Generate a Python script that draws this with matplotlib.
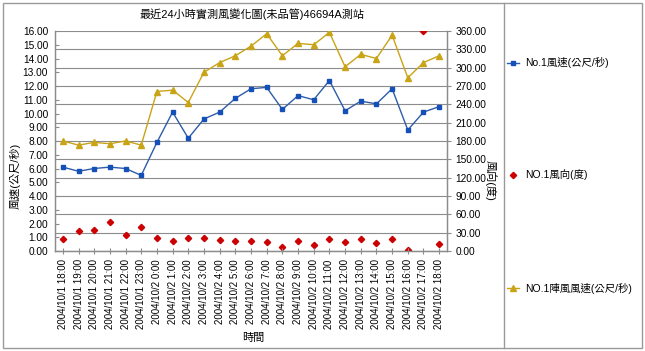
import matplotlib
matplotlib.use("Agg")
import matplotlib.pyplot as plt
from matplotlib.lines import Line2D
from matplotlib.patches import Rectangle

plt.rcParams['font.family'] = ['Liberation Sans', 'Noto Sans CJK TC', 'DejaVu Sans']

times = ["2004/10/1 18:00", "2004/10/1 19:00", "2004/10/1 20:00", "2004/10/1 21:00",
         "2004/10/1 22:00", "2004/10/1 23:00", "2004/10/2 0:00", "2004/10/2 1:00",
         "2004/10/2 2:00", "2004/10/2 3:00", "2004/10/2 4:00", "2004/10/2 5:00",
         "2004/10/2 6:00", "2004/10/2 7:00", "2004/10/2 8:00", "2004/10/2 9:00",
         "2004/10/2 10:00", "2004/10/2 11:00", "2004/10/2 12:00", "2004/10/2 13:00",
         "2004/10/2 14:00", "2004/10/2 15:00", "2004/10/2 16:00", "2004/10/2 17:00",
         "2004/10/2 18:00"]
wind_speed = [6.1, 5.8, 6.0, 6.1, 6.0, 5.5, 7.9, 10.1, 8.2, 9.6, 10.1, 11.1, 11.8,
              11.9, 10.3, 11.3, 11.0, 12.4, 10.2, 10.9, 10.7, 11.8, 8.8, 10.1, 10.5]
wind_dir = [20, 32, 35, 47, 26, 40, 22, 16, 22, 21, 18, 17, 17, 14, 7, 17, 10, 20,
            15, 20, 13, 20, 2, 360, 11]
gust = [8.0, 7.7, 7.9, 7.8, 8.0, 7.7, 11.6, 11.7, 10.8, 13.0, 13.7, 14.2, 14.9,
        15.8, 14.2, 15.1, 15.0, 15.9, 13.4, 14.3, 14.0, 15.7, 12.6, 13.7, 14.2]

title = "最近24小時實測風變化圖(未品管)46694A測站"
left_label = "風速(公尺/秒)"
right_label = "風向(度)"
x_label = "時間"
legend_labels = ["No.1風速(公尺/秒)", "NO.1風向(度)", "NO.1陣風風速(公尺/秒)"]

W, H = 645, 351
fig = plt.figure(figsize=(W / 100, H / 100), dpi=100)
fig.patch.set_facecolor('white')

L, R, T, B = 55, 447, 31, 251
ax = fig.add_axes([L / W, 1 - B / H, (R - L) / W, (B - T) / H])
ax2 = ax.twinx()

blue_l = '#2E5CA8'
blue_m = '#1550B8'
gold = '#C9A417'
red = '#CC0000'
gray = '#8C8C8C'

ms_sq, ms_tri, ms_dia = 3.2, 4.6, 3.2

x = list(range(len(times)))
ax.plot(x, wind_speed, color=blue_l, lw=1.0, marker='s', ms=ms_sq,
        mfc=blue_m, mec=blue_m, zorder=4)
ax.plot(x, gust, color=gold, lw=1.0, marker='^', ms=ms_tri,
        mfc=gold, mec=gold, zorder=4)
ax2.plot(x, wind_dir, ls='none', marker='D', ms=ms_dia, mfc=red, mec=red, zorder=5)

ax.set_zorder(ax2.get_zorder() + 1)
ax.patch.set_visible(False)

ax.set_xlim(-0.5, len(times) - 0.5)
ax.set_ylim(0, 16)
ax2.set_ylim(0, 360)
ax.set_yticks(range(0, 17))
ax.set_yticklabels([f"{v:.2f}" for v in range(0, 17)], fontsize=7.3)
ax2.set_yticks(range(0, 361, 30))
ax2.set_yticklabels([f"{v:.2f}" for v in range(0, 361, 30)], fontsize=7.3)
ax2.grid(axis='y', color=gray, lw=0.8, zorder=0)
ax2.set_axisbelow(True)

ax.set_xticks(x)
ax.set_xticklabels(times, rotation=90, fontsize=7.0, va='top')
ax.tick_params(axis='x', direction='inout', length=4, color=gray, pad=4)
ax.tick_params(axis='y', direction='in', length=3, color=gray, pad=5)
ax2.tick_params(axis='y', direction='out', length=3, color=gray, pad=3)
ax2.tick_params(axis='x', length=0)

for a in (ax, ax2):
    for s in a.spines.values():
        s.set_color(gray)
        s.set_linewidth(0.9)
    a.spines['top'].set_visible(False)

fig.text(252 / W, 1 - 14 / H, title, ha='center', va='center', fontsize=8)
fig.text(15 / W, 1 - 176 / H, left_label, ha='center', va='center', rotation=90, fontsize=8)
fig.text(491 / W, 1 - 180 / H, right_label, ha='center', va='center', rotation=-90, fontsize=8)
fig.text(253 / W, 1 - 338 / H, x_label, ha='center', va='center', fontsize=8)

# outer border and legend box
fig.add_artist(Rectangle((3 / W, 1 - 348 / H), (642 - 3) / W, (348 - 3) / H,
                         transform=fig.transFigure, fill=False, ec='#9A9A9A', lw=1.0))
fig.add_artist(Line2D([504 / W, 504 / W], [1 - 3 / H, 1 - 348 / H],
                      transform=fig.transFigure, color='#9A9A9A', lw=1.0))

handles = [
    Line2D([], [], color=blue_l, lw=1.0, marker='s', ms=ms_sq, mfc=blue_m, mec=blue_m),
    Line2D([], [], color='none', lw=0, marker='D', ms=ms_dia, mfc=red, mec=red),
    Line2D([], [], color=gold, lw=1.0, marker='^', ms=ms_tri, mfc=gold, mec=gold),
]
ys = [63, 175, 288]
for h, lab, yy in zip(handles, legend_labels, ys):
    yf = 1 - yy / H
    if h.get_linewidth() > 0:
        fig.add_artist(Line2D([507 / W, 519 / W], [yf, yf], transform=fig.transFigure,
                              color=h.get_color(), lw=h.get_linewidth()))
    fig.add_artist(Line2D([513 / W], [yf], transform=fig.transFigure, ls='none',
                          marker=h.get_marker(), ms=h.get_markersize(),
                          mfc=h.get_markerfacecolor(), mec=h.get_markeredgecolor()))
    fig.text(525 / W, yf, lab, ha='left', va='center', fontsize=7.5)

fig.savefig('out.png', dpi=100)
